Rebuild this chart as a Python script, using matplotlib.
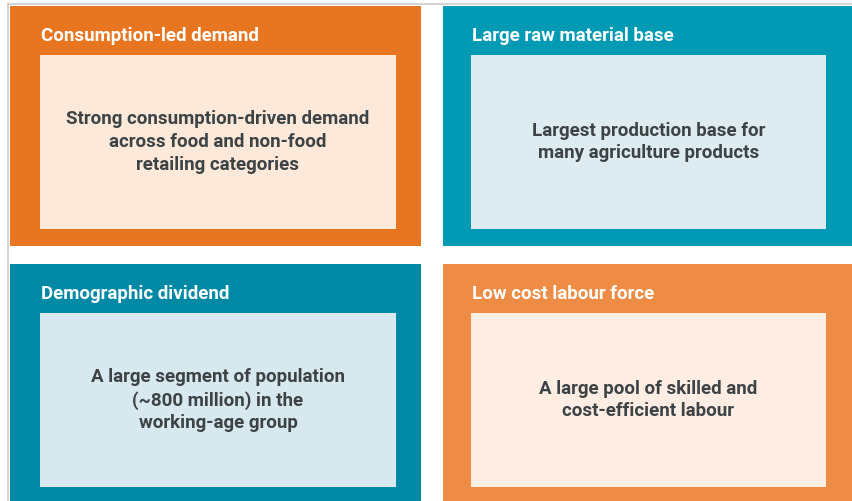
import matplotlib
matplotlib.use("Agg")
import matplotlib.pyplot as plt
from matplotlib.patches import Rectangle

# four panels, reading order: top-left, top-right, bottom-left, bottom-right
titles = ["Consumption-led demand", "Large raw material base",
          "Demographic dividend", "Low cost labour force"]
bodies = ["Strong consumption-driven demand\nacross food and non-food\nretailing categories",
          "Largest production base for\nmany agriculture products",
          "A large segment of population\n(~800 million) in the\nworking-age group",
          "A large pool of skilled and\ncost-efficient labour"]
outer_colors = ["#E8751F", "#009AB4", "#0089A5", "#EE8C45"]
inner_colors = ["#FDE9DA", "#DEEBF1", "#D7E8EF", "#FDEDE2"]

TEXT = "#3D4345"
FONT = ["Roboto", "DejaVu Sans"]

W, H = 853, 501
# layout in pixels from top-left
cols = [(10, 421), (443, 853)]
rows = [(6, 246), (264, 501)]
inner_cols = [(40, 396), (471, 826)]
inner_rows = [(55, 229), (313, 487)]

fig = plt.figure(figsize=(W / 100, H / 100), dpi=100)
ax = fig.add_axes([0, 0, 1, 1])
ax.set_xlim(0, W)
ax.set_ylim(H, 0)
ax.axis("off")

# thin grey frame on top and left
ax.plot([8, W], [3.5, 3.5], color="#CCCCCC", lw=1.2)
ax.plot([8.5, 8.5], [3.5, H], color="#CCCCCC", lw=1.2)

for i, (t, b) in enumerate(zip(titles, bodies)):
    x0, x1 = cols[i % 2]
    y0, y1 = rows[i // 2]
    ix0, ix1 = inner_cols[i % 2]
    iy0, iy1 = inner_rows[i // 2]
    ax.add_patch(Rectangle((x0, y0), x1 - x0, y1 - y0, color=outer_colors[i], lw=0))
    ax.add_patch(Rectangle((ix0, iy0), ix1 - ix0, iy1 - iy0, color=inner_colors[i], lw=0))
    ax.text(ix0 + 1, y0 + 30, t, color="white", fontsize=13.5, fontweight="bold",
            family=FONT, ha="left", va="center")
    ax.text((ix0 + ix1) / 2, (iy0 + iy1) / 2, b, color=TEXT, fontsize=13.5,
            fontweight="bold", family=FONT, ha="center", va="center",
            linespacing=1.35)

fig.savefig("out.png", dpi=100)
